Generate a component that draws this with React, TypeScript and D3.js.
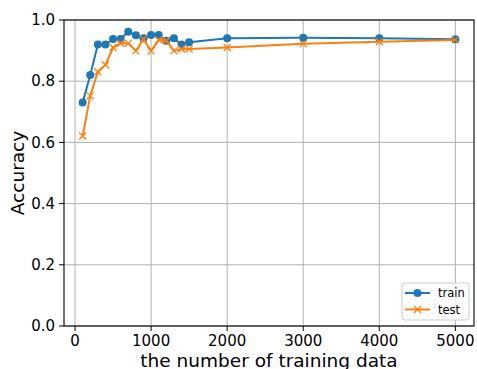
import React, { useEffect, useRef } from 'react'
import * as d3 from 'd3'

const sizes = [100, 200, 300, 400, 500, 600, 700, 800, 900, 1000, 1100, 1200, 1300, 1400, 1500, 2000, 3000, 4000, 5000]
const trainAcc = [0.73, 0.82, 0.92, 0.92, 0.938, 0.938, 0.962, 0.95, 0.94, 0.951, 0.951, 0.932, 0.94, 0.92, 0.927, 0.94, 0.942, 0.94, 0.937]
const testAcc = [0.621, 0.752, 0.831, 0.853, 0.91, 0.924, 0.924, 0.899, 0.937, 0.899, 0.935, 0.932, 0.899, 0.905, 0.905, 0.91, 0.922, 0.929, 0.935]
const xTicks = [0, 1000, 2000, 3000, 4000, 5000]
const yTicks = [0, 0.2, 0.4, 0.6, 0.8, 1.0]

const W = 477, H = 369
const m = { top: 20, right: 3, bottom: 43, left: 64 }
const font = 'DejaVu Sans, sans-serif'

function App() {
  const ref = useRef<SVGSVGElement>(null)

  useEffect(() => {
    const svg = d3.select(ref.current)
    svg.selectAll('*').remove()

    const x = d3.scaleLinear().domain([-145, 5245]).range([m.left, W - m.right])
    const y = d3.scaleLinear().domain([0, 1]).range([H - m.bottom, m.top])

    // grid
    const g = svg.append('g')
    g.selectAll('line.vx').data(xTicks).join('line')
      .attr('x1', d => x(d)).attr('x2', d => x(d))
      .attr('y1', y(0)).attr('y2', y(1))
      .attr('stroke', '#b0b0b0').attr('stroke-width', 1)
    g.selectAll('line.hy').data(yTicks).join('line')
      .attr('x1', m.left).attr('x2', W - m.right)
      .attr('y1', d => y(d)).attr('y2', d => y(d))
      .attr('stroke', '#b0b0b0').attr('stroke-width', 1)

    const line = d3.line<number>().x((_, i) => x(sizes[i])).y(d => y(d))

    // train
    svg.append('path').datum(trainAcc).attr('d', line)
      .attr('fill', 'none').attr('stroke', '#1f77b4').attr('stroke-width', 2)
    svg.append('g').selectAll('circle').data(trainAcc).join('circle')
      .attr('cx', (_, i) => x(sizes[i])).attr('cy', d => y(d)).attr('r', 4)
      .attr('fill', '#1f77b4')

    // test
    svg.append('path').datum(testAcc).attr('d', line)
      .attr('fill', 'none').attr('stroke', '#ff7f0e').attr('stroke-width', 2)
    const s = 3.5
    svg.append('g').selectAll('path').data(testAcc).join('path')
      .attr('d', (d, i) => {
        const cx = x(sizes[i]), cy = y(d)
        return `M${cx - s},${cy - s}L${cx + s},${cy + s}M${cx - s},${cy + s}L${cx + s},${cy - s}`
      })
      .attr('stroke', '#ff7f0e').attr('stroke-width', 1.3).attr('fill', 'none')

    // frame
    svg.append('rect')
      .attr('x', m.left).attr('y', m.top)
      .attr('width', W - m.right - m.left).attr('height', H - m.bottom - m.top)
      .attr('fill', 'none').attr('stroke', '#000').attr('stroke-width', 1.1)

    // x axis ticks
    const xa = svg.append('g')
    xa.selectAll('line').data(xTicks).join('line')
      .attr('x1', d => x(d)).attr('x2', d => x(d))
      .attr('y1', y(0)).attr('y2', y(0) + 5)
      .attr('stroke', '#000')
    xa.selectAll('text').data(xTicks).join('text')
      .attr('x', d => x(d)).attr('y', y(0) + 20)
      .attr('text-anchor', 'middle').attr('font-family', font).attr('font-size', 15)
      .attr('fill', '#000')
      .text(d => d)

    const ya = svg.append('g')
    ya.selectAll('line').data(yTicks).join('line')
      .attr('x1', m.left - 5).attr('x2', m.left)
      .attr('y1', d => y(d)).attr('y2', d => y(d))
      .attr('stroke', '#000')
    ya.selectAll('text').data(yTicks).join('text')
      .attr('x', m.left - 9).attr('y', d => y(d)).attr('dy', '0.35em')
      .attr('text-anchor', 'end').attr('font-family', font).attr('font-size', 15)
      .attr('fill', '#000')
      .text(d => d.toFixed(1))

    svg.append('text')
      .attr('x', (m.left + W - m.right) / 2).attr('y', H - 2)
      .attr('text-anchor', 'middle').attr('font-family', font).attr('font-size', 18.5)
      .text('the number of training data')
    svg.append('text')
      .attr('transform', `translate(24,${(m.top + H - m.bottom) / 2}) rotate(-90)`)
      .attr('text-anchor', 'middle').attr('font-family', font).attr('font-size', 18.5)
      .text('Accuracy')

    // legend
    const lx = 402, ly = 283
    const lg = svg.append('g')
    lg.append('rect').attr('x', lx).attr('y', ly).attr('width', 67).attr('height', 37).attr('rx', 3)
      .attr('fill', '#fff').attr('fill-opacity', 0.8).attr('stroke', '#ccc').attr('stroke-width', 1)
    const items = [{ name: 'train', color: '#1f77b4', mark: 'o' }, { name: 'test', color: '#ff7f0e', mark: 'x' }]
    items.forEach((it, i) => {
      const yy = ly + 10 + i * 16.5
      lg.append('line').attr('x1', lx + 3).attr('x2', lx + 28).attr('y1', yy).attr('y2', yy)
        .attr('stroke', it.color).attr('stroke-width', 2)
      if (it.mark === 'o') {
        lg.append('circle').attr('cx', lx + 15.5).attr('cy', yy).attr('r', 4).attr('fill', it.color)
      } else {
        const cx = lx + 15.5
        lg.append('path').attr('d', `M${cx - s},${yy - s}L${cx + s},${yy + s}M${cx - s},${yy + s}L${cx + s},${yy - s}`)
          .attr('stroke', it.color).attr('stroke-width', 1.3)
      }
      lg.append('text').attr('x', lx + 36).attr('y', yy).attr('dy', '0.35em')
        .attr('font-family', font).attr('font-size', 11.5).text(it.name)
    })
  }, [])

  return (
    <svg ref={ref} width={W} height={H} viewBox={`0 0 ${W} ${H}`}
      style={{ position: 'absolute', left: 0, top: 0, background: '#fff' }} />
  )
}

export default App
